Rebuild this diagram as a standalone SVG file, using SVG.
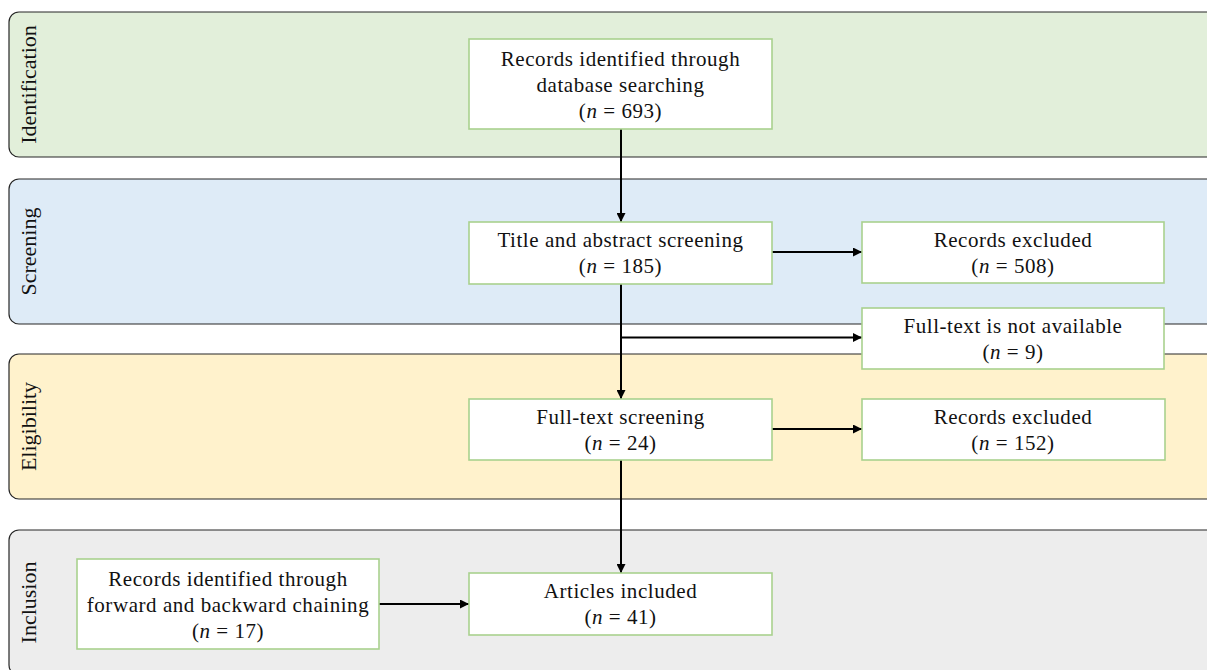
<svg xmlns="http://www.w3.org/2000/svg" width="1207" height="670" viewBox="0 0 1207 670">
  <style>
    .lane { stroke: #262626; stroke-width: 1.2; }
    .lane-label { font-family: "Liberation Serif", "Times New Roman", serif; font-size: 22px; fill: #111; text-anchor: middle; }
    .box { fill: #ffffff; stroke: #a9d18e; stroke-width: 1.6; }
    .txt { font-family: "Liberation Serif", "Times New Roman", serif; font-size: 21px; letter-spacing: 0.55px; fill: #111; text-anchor: middle; }
    .it { font-style: italic; }
    .edge { stroke: #000; stroke-width: 2; fill: none; marker-end: url(#arrow); }
  </style>
  <defs>
    <marker id="arrow" viewBox="0 0 10 10" refX="10" refY="5" markerWidth="4.5" markerHeight="4.5" orient="auto" markerUnits="strokeWidth">
      <path d="M0,0 L10,5 L0,10 z" fill="#000"/>
    </marker>
  </defs>

  <rect width="1207" height="670" fill="#ffffff"/>

  <!-- Phase swimlanes -->
  <g id="lane-identification">
    <rect class="lane" x="9" y="12" width="1220" height="145" rx="10" fill="#e2efda"/>
    <text class="lane-label" transform="translate(36,84.5) rotate(-90)">Identification</text>
  </g>
  <g id="lane-screening">
    <rect class="lane" x="9" y="179" width="1220" height="145" rx="10" fill="#deebf7"/>
    <text class="lane-label" transform="translate(36,251.5) rotate(-90)">Screening</text>
  </g>
  <g id="lane-eligibility">
    <rect class="lane" x="9" y="354" width="1220" height="145" rx="10" fill="#fff2cc"/>
    <text class="lane-label" transform="translate(36,426.5) rotate(-90)">Eligibility</text>
  </g>
  <g id="lane-inclusion">
    <rect class="lane" x="9" y="530" width="1220" height="145" rx="10" fill="#ededed"/>
    <text class="lane-label" transform="translate(36,602.5) rotate(-90)">Inclusion</text>
  </g>

  <!-- Connectors -->
  <g id="connectors">
    <line class="edge" x1="621" y1="129" x2="621" y2="222"/>
    <line class="edge" x1="772" y1="252" x2="862" y2="252"/>
    <line class="edge" x1="621" y1="284" x2="621" y2="399"/>
    <line class="edge" x1="621" y1="337.5" x2="862" y2="337.5"/>
    <line class="edge" x1="772" y1="429" x2="862" y2="429"/>
    <line class="edge" x1="621" y1="460" x2="621" y2="573"/>
    <line class="edge" x1="379" y1="604" x2="469" y2="604"/>
  </g>

  <!-- Flow boxes -->
  <g id="node-identified">
    <rect class="box" x="469" y="39" width="303" height="90"/>
    <text class="txt" x="620.5" y="65.5">Records identified through</text>
    <text class="txt" x="620.5" y="91.5">database searching</text>
    <text class="txt" x="620.5" y="117.5">(<tspan class="it">n</tspan> = 693)</text>
  </g>
  <g id="node-title-abstract">
    <rect class="box" x="469" y="222" width="303" height="62"/>
    <text class="txt" x="620.5" y="247">Title and abstract screening</text>
    <text class="txt" x="620.5" y="273">(<tspan class="it">n</tspan> = 185)</text>
  </g>
  <g id="node-excluded-508">
    <rect class="box" x="862" y="222" width="302" height="61"/>
    <text class="txt" x="1013" y="247">Records excluded</text>
    <text class="txt" x="1013" y="273">(<tspan class="it">n</tspan> = 508)</text>
  </g>
  <g id="node-not-available">
    <rect class="box" x="862" y="308" width="302" height="61"/>
    <text class="txt" x="1013" y="333">Full-text is not available</text>
    <text class="txt" x="1013" y="359">(<tspan class="it">n</tspan> = 9)</text>
  </g>
  <g id="node-full-text">
    <rect class="box" x="469" y="399" width="303" height="61"/>
    <text class="txt" x="620.5" y="424">Full-text screening</text>
    <text class="txt" x="620.5" y="450">(<tspan class="it">n</tspan> = 24)</text>
  </g>
  <g id="node-excluded-152">
    <rect class="box" x="862" y="399" width="303" height="61"/>
    <text class="txt" x="1013" y="424">Records excluded</text>
    <text class="txt" x="1013" y="450">(<tspan class="it">n</tspan> = 152)</text>
  </g>
  <g id="node-chaining">
    <rect class="box" x="77" y="559" width="302" height="90"/>
    <text class="txt" x="228" y="585.5">Records identified through</text>
    <text class="txt" x="228" y="611.5">forward and backward chaining</text>
    <text class="txt" x="228" y="637.5">(<tspan class="it">n</tspan> = 17)</text>
  </g>
  <g id="node-included">
    <rect class="box" x="469" y="573" width="303" height="62"/>
    <text class="txt" x="620.5" y="598">Articles included</text>
    <text class="txt" x="620.5" y="624">(<tspan class="it">n</tspan> = 41)</text>
  </g>
</svg>
